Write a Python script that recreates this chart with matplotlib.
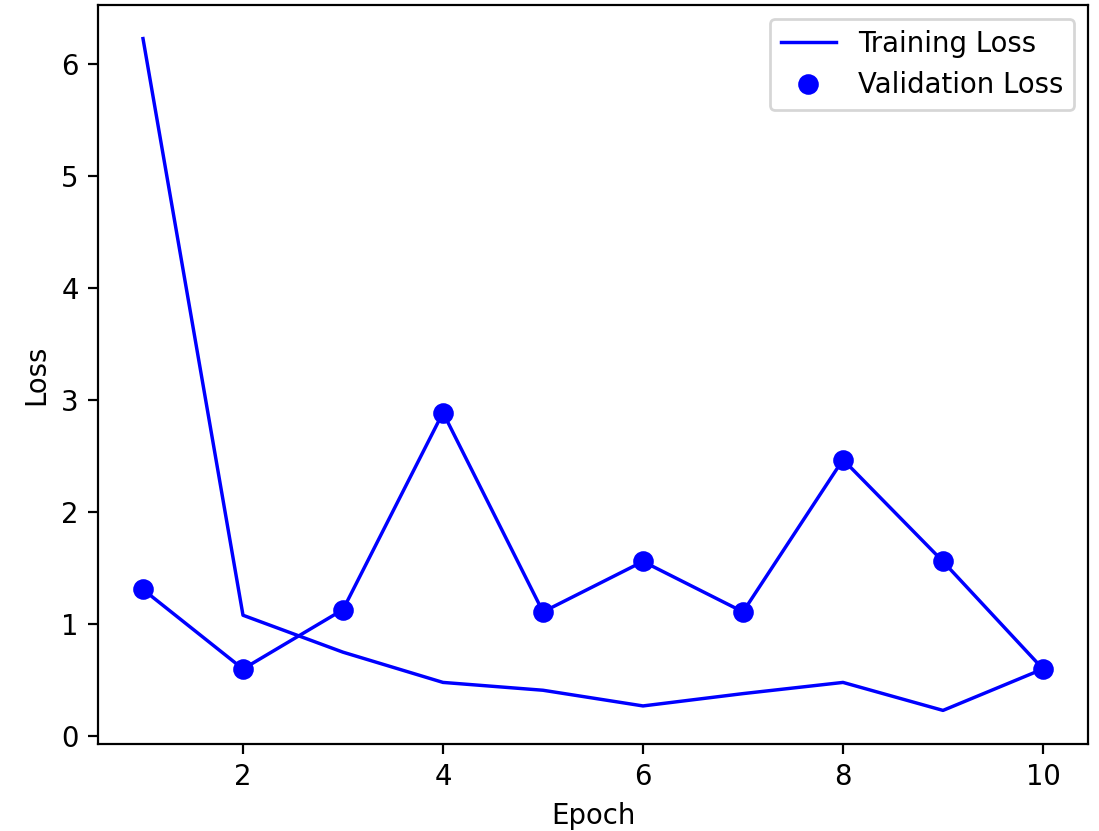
import matplotlib
matplotlib.use('Agg')
import matplotlib.pyplot as plt

epochs = [1, 2, 3, 4, 5, 6, 7, 8, 9, 10]
train_loss = [6.23, 1.08, 0.75, 0.48, 0.41, 0.27, 0.38, 0.48, 0.23, 0.60]
val_loss = [1.31, 0.60, 1.13, 2.89, 1.11, 1.56, 1.11, 2.47, 1.56, 0.60]

DPI = 198
fig = plt.figure(figsize=(1099 / DPI, 831 / DPI), dpi=DPI)
ax = fig.add_axes([98 / 1099, 87 / 831, 990 / 1099, 739 / 831])

ax.plot(epochs, train_loss, 'b', lw=1.25, label='Training Loss')
# validation drawn as a line plus dots, only the dots go in the legend
ax.plot(epochs, val_loss, 'b', lw=1.25)
ax.plot(epochs, val_loss, 'bo', ms=6.5, label='Validation Loss')

ax.set_xlabel('Epoch')
ax.set_ylabel('Loss')
ax.legend()

fig.savefig('out.png', dpi=DPI)
